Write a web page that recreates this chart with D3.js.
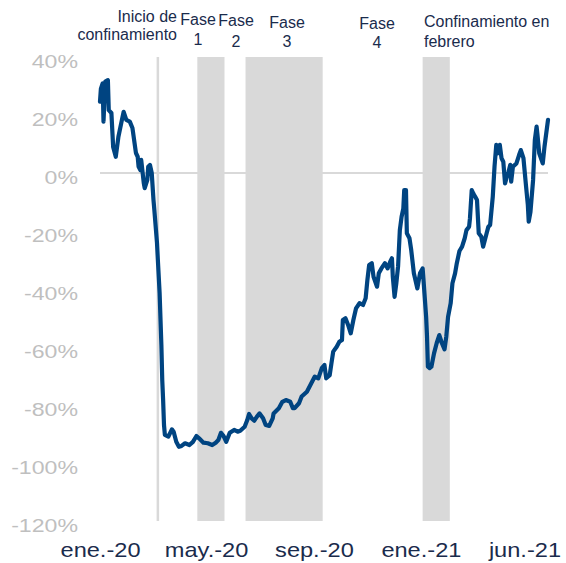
<!DOCTYPE html>
<html>
<head>
<meta charset="utf-8">
<script src="https://cdn.jsdelivr.net/npm/d3@7"></script>
<style>
  body { margin: 0; background: #fff; }
  svg { display: block; font-family: "Liberation Sans", Arial, sans-serif; }
</style>
</head>
<body>
<svg id="chart" width="566" height="563"></svg>
<script>
    // serie diaria: dias desde el 1 de enero de 2020 y variacion en %
    var inicio = new Date(2020, 0, 1);
    var dias = [0, 1, 3, 4, 6, 9, 10, 13, 15, 18, 21, 25, 27, 30, 34, 37, 41, 43, 44, 46,
        47, 50, 51, 54, 55, 57, 59, 61, 62, 65, 66, 68, 70, 71, 72, 73, 74, 78, 82, 84,
        87, 90, 93, 97, 102, 106, 110, 113, 118, 123, 128, 132, 135, 138, 141, 144, 148, 153, 157, 160,
        165, 168, 170, 173, 176, 179, 182, 186, 189, 193, 197, 198, 202, 204, 208, 212, 217, 220, 222, 227,
        230, 236, 241, 245, 249, 253, 256, 258, 262, 264, 266, 270, 273, 276, 277, 280, 283, 286, 289, 292,
        296, 300, 303, 305, 307, 310, 312, 316, 318, 321, 325, 328, 331, 333, 334, 336, 338, 340, 342, 344,
        346, 347, 349, 350, 353, 355, 358, 362, 365, 368, 369, 372, 373, 374, 376, 378, 381, 384, 387, 390,
        393, 395, 397, 400, 402, 405, 407, 410, 413, 416, 418, 421, 422, 424, 426, 428, 430, 432, 435, 437,
        439, 441, 443, 445, 448, 450, 452, 454, 456, 458, 460, 462, 464, 466, 468, 469, 471, 475, 478, 480,
        483, 486, 488, 489, 491, 494, 496, 498, 499, 501, 505, 507, 511];
    var valores = [24.6, 29, 30.9, 17.7, 31.5, 32, 21.7, 20.7, 9, 5.6, 12.5, 18.3, 21.1, 18.3, 17.7, 15.5, 6.9, 5.6, 2.2, 1,
        4.5, -3.6, -5.2, -2.4, 2.2, 2.8, 0, -9.3, -12.8, -24.1, -30, -41.4, -59.3, -71.4, -78.3, -86.9, -90.3, -90.9, -88.4, -89.2,
        -92.7, -94.4, -94.1, -93.2, -93.8, -92.7, -90.7, -91.5, -93, -93.2, -93.8, -93, -92.1, -89.6, -90.7, -92.7, -89.6, -88.6, -89.2, -88.9,
        -87.5, -85.2, -83.1, -84.6, -85.4, -84, -82.9, -84.6, -86.9, -87.2, -84.6, -82.9, -81.7, -81.1, -78.9, -78.3, -78.9, -81.1, -81.1, -79.4,
        -77.1, -75.4, -72.5, -70.2, -70.8, -67.3, -66.2, -70.8, -69.7, -65.6, -61.6, -59.9, -58.2, -57.6, -50.7, -50.1, -52.4, -55.3, -50.7, -46.7,
        -44.9, -45.5, -43.2, -36.9, -31.7, -31.1, -35.8, -39.2, -34.6, -32.9, -31.1, -32.9, -30.6, -29.4, -35.8, -42.7, -38, -32.2, -19.7, -15.1,
        -12.2, -5.9, -5.9, -20.8, -22.5, -26.6, -34.6, -39.8, -34.6, -32.9, -36.9, -49.6, -56.4, -66.8, -67.3, -66.8, -62.2, -58.7, -55.9, -58.7,
        -60.8, -56.4, -49.6, -44.9, -38, -34.6, -31.1, -26.9, -25.4, -22.5, -19.7, -18.5, -15.6, -5.9, -7.2, -8.2, -9.3, -20.8, -22, -25.4,
        -23.1, -20.8, -18.5, -17.9, -8.2, 2.2, 9.7, 6.8, 9.7, 5.1, 3.9, -3.6, -1.4, 0.4, 2.8, -3, 2.2, 3.3, 6.2, 7.9,
        5.1, -4.7, -11, -16.8, -13.4, -2.4, 11.4, 16, 13.1, 6.8, 3.3, 9.1, 18.3];

    var yTicks = [40, 20, 0, -20, -40, -60, -80, -100, -120];
    var xTickFechas = ["2020-01-01", "2020-05-01", "2020-09-01", "2021-01-01", "2021-06-01"];
    var xTickTextos = ["ene.-20", "may.-20", "sep.-20", "ene.-21", "jun.-21"];

    var fechaConfinamiento = "2020-03-07";
    var periodos = [["2020-04-21", "2020-05-22"], ["2020-06-15", "2020-09-11"], ["2021-01-03", "2021-02-03"]];

    (function () {
        var parse = d3.timeParse("%Y-%m-%d");
        var data = dias.map(function (d, i) {
            return {fecha: d3.timeDay.offset(inicio, d), valor: valores[i]};
        });

        var svg = d3.select("#chart");
        var mLeft = 100, mRight = 548, mTop = 57, mBottom = 521;

        var x = d3.scaleTime()
            .domain([inicio, new Date(2021, 4, 26)])
            .range([mLeft, mRight]);
        var y = d3.scaleLinear()
            .domain([-120, 40])
            .range([mBottom, mTop]);

        // periodos sombreados
        svg.append("g").selectAll("rect")
            .data(periodos)
            .enter().append("rect")
            .attr("x", function (d) { return x(parse(d[0])); })
            .attr("width", function (d) { return x(parse(d[1])) - x(parse(d[0])); })
            .attr("y", mTop)
            .attr("height", mBottom - mTop)
            .attr("fill", "#d9d9d9");

        // inicio del confinamiento
        svg.append("line")
            .attr("x1", x(parse(fechaConfinamiento)))
            .attr("x2", x(parse(fechaConfinamiento)))
            .attr("y1", mTop)
            .attr("y2", mBottom)
            .attr("stroke", "#d9d9d9")
            .attr("stroke-width", 2.5);

        // linea del cero
        svg.append("line")
            .attr("x1", mLeft)
            .attr("x2", mRight)
            .attr("y1", y(0))
            .attr("y2", y(0))
            .attr("stroke", "#d9d9d9")
            .attr("stroke-width", 2);

        // eje y
        var sy = 1.25;
        var yAxis = svg.append("g")
            .attr("transform", "translate(" + mLeft + ",0)")
            .call(d3.axisLeft(y).tickValues(yTicks).tickSize(0).tickFormat(function (d) { return d + "%"; }));
        yAxis.select(".domain").remove();
        yAxis.selectAll("text")
            .attr("font-family", "\"Liberation Sans\", Arial, sans-serif")
            .attr("font-size", 18.5)
            .attr("fill", "#bfbfbf")
            .attr("x", -22 / sy)
            .attr("dy", "0.55em")
            .attr("transform", "scale(" + sy + ",1)");

        // eje x
        var sx = 1.18;
        var xAxis = svg.append("g")
            .attr("transform", "translate(0," + mBottom + ")")
            .call(d3.axisBottom(x)
                .tickValues(xTickFechas.map(parse))
                .tickSize(0)
                .tickFormat(function (d, i) { return xTickTextos[i]; }));
        xAxis.select(".domain").remove();
        xAxis.selectAll("text")
            .attr("font-family", "\"Liberation Sans\", Arial, sans-serif")
            .attr("font-size", 20)
            .attr("fill", "#1a2b4c")
            .attr("y", 0)
            .attr("dy", 0)
            .attr("transform", "translate(0,36) scale(" + sx + ",1)");
        // la ultima etiqueta se mete dentro del grafico
        xAxis.selectAll(".tick").each(function () {
            var g = d3.select(this);
            var t = g.select("text");
            var w = t.node().getComputedTextLength() * sx;
            var m = /translate\(([^,]+),/.exec(g.attr("transform"));
            var cx = +m[1];
            if (cx + w / 2 > 561) {
                g.attr("transform", "translate(" + (561 - w / 2) + ",0)");
            }
        });

        // serie
        var line = d3.line()
            .x(function (d) { return x(d.fecha); })
            .y(function (d) { return y(d.valor); });

        svg.append("path")
            .datum(data)
            .attr("d", line)
            .attr("fill", "none")
            .attr("stroke", "#004481")
            .attr("stroke-width", 4.2)
            .attr("stroke-linejoin", "round")
            .attr("stroke-linecap", "round");

        // anotaciones de las fases
        var notas = [
            {lineas: ["Inicio de", "confinamiento"], x: 177, y: [22, 39.5], anchor: "end"},
            {lineas: ["Fase", "1"], x: 198, y: [25, 45], anchor: "middle"},
            {lineas: ["Fase", "2"], x: 236, y: [26, 46.5], anchor: "middle"},
            {lineas: ["Fase", "3"], x: 287, y: [28, 46.5], anchor: "middle"},
            {lineas: ["Fase", "4"], x: 377, y: [29, 48], anchor: "middle"},
            {lineas: ["Confinamiento en", "febrero"], x: 424, y: [27, 46.5], anchor: "start"}
        ];
        notas.forEach(function (n) {
            var t = svg.append("text")
                .attr("text-anchor", n.anchor)
                .attr("font-size", 16)
                .attr("fill", "#1a2b4c");
            n.lineas.forEach(function (l, i) {
                t.append("tspan").attr("x", n.x).attr("y", n.y[i]).text(l);
            });
        });
    })();
</script>
</body>
</html>
